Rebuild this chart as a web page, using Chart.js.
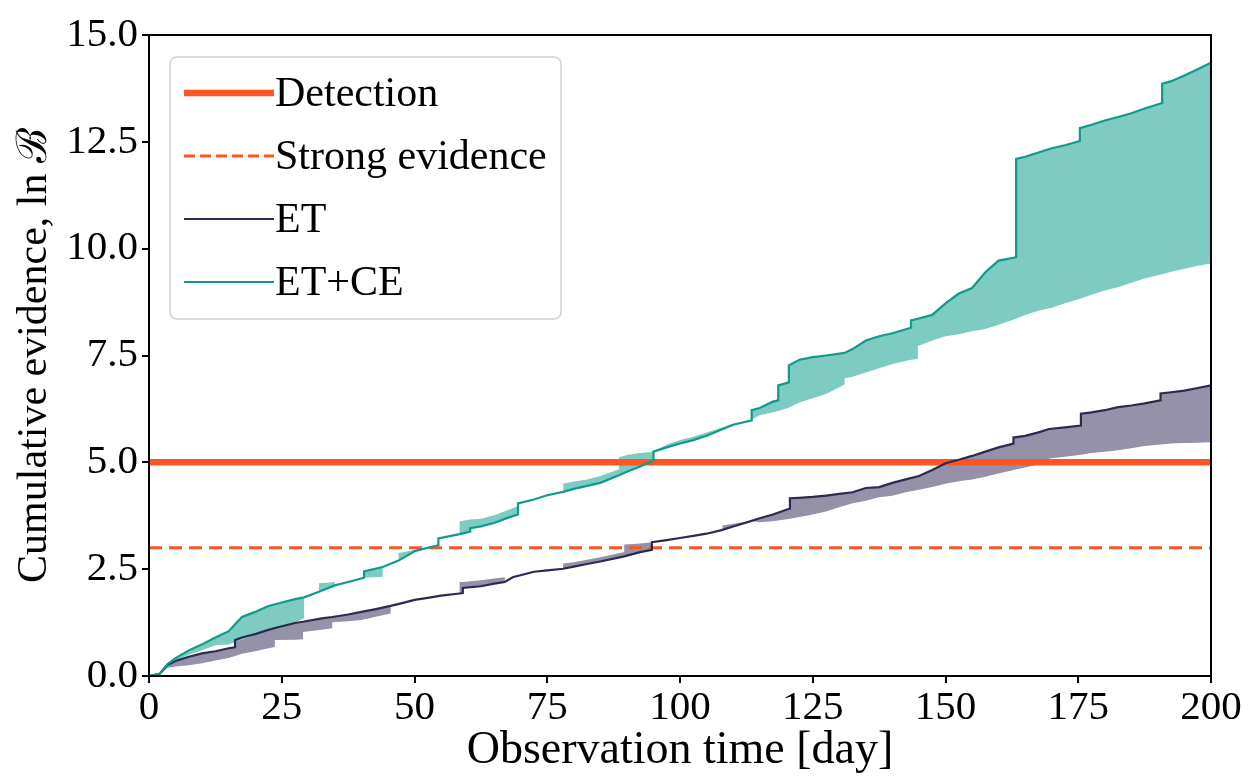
<!DOCTYPE html>
<html>
<head>
<meta charset="utf-8">
<script src="https://cdn.jsdelivr.net/npm/chart.js@4.4.0/dist/chart.umd.min.js"></script>
<style>
  html, body { margin: 0; padding: 0; background: #ffffff; }
  #wrap { width: 1253px; height: 779px; position: relative; }
</style>
</head>
<body>
<div id="wrap"><canvas id="c" width="1253" height="779"></canvas></div>
<script>
// ---------------- data ----------------
// ET+CE: observation days, cumulative ln B (line) and the other edge of its shaded band
const ceDays = [0, 2, 3.5, 5, 7.5, 10, 12.5, 15, 17.5, 20,
  22.5, 25, 27.5, 29.2, 29.2, 32, 32, 35, 35, 37.5,
  40.5, 40.5, 44, 44, 47, 47, 50, 50.5, 54.5, 54.5,
  58.5, 58.5, 60.5, 60.5, 62.5, 65, 67.5, 69.5, 69.5, 72.5,
  75, 78, 78, 80, 82.5, 85, 88.5, 88.5, 90, 92.5,
  95, 95, 97.5, 100, 102.5, 105, 107.5, 110, 113.5, 113.5,
  115, 117.5, 118.5, 118.5, 120.5, 120.5, 122.5, 125, 127.5, 131,
  131, 132.5, 135, 137.5, 140, 143.5, 143.5, 144.8, 144.8, 147.5,
  150, 152.5, 155, 157.5, 160, 163.3, 163.3, 165, 167.5, 170,
  172.5, 175.3, 175.3, 177.5, 180, 182.5, 185, 187.5, 190.8, 190.8,
  192.5, 195, 197.5, 200];

const ceLine = [0, 0.05, 0.28, 0.42, 0.6, 0.74, 0.9, 1.05, 1.38, 1.5,
  1.64, 1.72, 1.8, 1.84, 1.84, 1.97, 1.97, 2.12, 2.12, 2.2,
  2.3, 2.45, 2.55, 2.55, 2.7, 2.7, 2.92, 2.94, 3.06, 3.22,
  3.32, 3.32, 3.38, 3.46, 3.5, 3.58, 3.7, 3.78, 4.04, 4.13,
  4.23, 4.31, 4.31, 4.38, 4.45, 4.52, 4.7, 4.7, 4.78, 4.9,
  5.05, 5.25, 5.35, 5.44, 5.52, 5.62, 5.75, 5.88, 5.98, 6.22,
  6.27, 6.42, 6.45, 6.8, 6.87, 7.27, 7.4, 7.46, 7.5, 7.56,
  7.56, 7.65, 7.85, 7.95, 8.02, 8.15, 8.32, 8.36, 8.36, 8.45,
  8.72, 8.95, 9.08, 9.45, 9.72, 9.8, 12.1, 12.15, 12.25, 12.35,
  12.42, 12.52, 12.82, 12.9, 13.0, 13.08, 13.17, 13.28, 13.41, 13.86,
  13.92, 14.05, 14.2, 14.35];

const ceBand = [0, 0.03, 0.2, 0.35, 0.5, 0.6, 0.72, 0.74, 0.85, 0.95,
  1.05, 1.12, 1.25, 1.35, 1.84, 1.97, 2.17, 2.2, 2.12, 2.2,
  2.3, 2.3, 2.32, 2.55, 2.7, 2.88, 2.95, 2.94, 3.06, 3.22,
  3.32, 3.62, 3.66, 3.66, 3.68, 3.76, 3.88, 3.98, 4.04, 4.13,
  4.23, 4.31, 4.5, 4.55, 4.6, 4.68, 4.84, 5.12, 5.17, 5.22,
  5.25, 5.25, 5.42, 5.52, 5.6, 5.7, 5.8, 5.9, 6.0, 6.0,
  6.1, 6.17, 6.2, 6.2, 6.28, 6.28, 6.4, 6.5, 6.6, 6.82,
  6.97, 7.0, 7.1, 7.2, 7.3, 7.4, 7.4, 7.42, 7.72, 7.85,
  7.95, 8.0, 8.07, 8.12, 8.22, 8.36, 8.36, 8.45, 8.55, 8.62,
  8.72, 8.83, 8.83, 8.92, 9.02, 9.1, 9.2, 9.3, 9.4, 9.4,
  9.46, 9.53, 9.6, 9.65];

// ET: observation days, cumulative ln B (line) and the other edge of its shaded band
const etDays = [0, 2, 3.5, 5, 7.5, 10, 12.5, 15, 16.2, 16.2,
  17.5, 20, 22.5, 23.7, 23.7, 27.5, 29, 29, 32.5, 34.5,
  34.5, 37.5, 40, 42.5, 45.5, 45.5, 47.5, 50, 52.5, 55,
  58.5, 58.5, 59.1, 59.1, 62.5, 65, 67, 67, 68.5, 72.5,
  75, 78, 78, 80, 82.5, 85, 89.5, 89.5, 92.5, 94.7,
  94.7, 97.5, 100, 102.5, 105, 108, 108, 110, 113.5, 115,
  117.5, 120.7, 120.7, 122.5, 125, 127.5, 130, 132.5, 135, 137.5,
  140, 142.5, 145, 147.5, 150, 152.5, 155, 157.5, 160, 162.8,
  162.8, 165, 167.5, 169.5, 169.5, 172.5, 175.5, 175.5, 177.5, 180,
  182.5, 185, 187.5, 190.5, 190.5, 192.5, 195, 197.5, 200];

const etLine = [0, 0.05, 0.26, 0.35, 0.45, 0.53, 0.58, 0.65, 0.67, 0.84,
  0.9, 0.98, 1.08, 1.12, 1.12, 1.24, 1.27, 1.27, 1.35, 1.38,
  1.38, 1.44, 1.5, 1.56, 1.64, 1.64, 1.7, 1.78, 1.83, 1.88,
  1.93, 1.93, 1.94, 2.06, 2.1, 2.16, 2.2, 2.2, 2.31, 2.44,
  2.47, 2.51, 2.51, 2.56, 2.62, 2.68, 2.8, 2.8, 2.9, 2.95,
  3.13, 3.18, 3.23, 3.28, 3.33, 3.42, 3.42, 3.5, 3.63, 3.69,
  3.78, 3.92, 4.16, 4.17, 4.19, 4.22, 4.26, 4.3, 4.4, 4.42,
  4.52, 4.6, 4.68, 4.82, 4.98, 5.06, 5.15, 5.25, 5.35, 5.44,
  5.58, 5.62, 5.7, 5.78, 5.78, 5.82, 5.86, 6.14, 6.17, 6.22,
  6.29, 6.33, 6.38, 6.45, 6.61, 6.64, 6.68, 6.74, 6.8];

const etBand = [0, 0.03, 0.19, 0.22, 0.25, 0.3, 0.36, 0.42, 0.47, 0.47,
  0.52, 0.58, 0.65, 0.68, 0.84, 0.85, 0.86, 1.03, 1.08, 1.12,
  1.26, 1.28, 1.31, 1.38, 1.46, 1.64, 1.7, 1.78, 1.83, 1.88,
  1.93, 2.2, 2.2, 2.2, 2.24, 2.28, 2.31, 2.2, 2.31, 2.44,
  2.47, 2.51, 2.63, 2.66, 2.72, 2.78, 2.9, 3.08, 3.1, 3.13,
  3.13, 3.18, 3.23, 3.28, 3.33, 3.42, 3.52, 3.56, 3.63, 3.6,
  3.62, 3.68, 3.68, 3.72, 3.78, 3.85, 3.95, 4.04, 4.1, 4.18,
  4.22, 4.3, 4.36, 4.42, 4.5, 4.56, 4.6, 4.66, 4.74, 4.82,
  4.82, 4.88, 4.95, 4.98, 5.09, 5.13, 5.18, 5.18, 5.22, 5.25,
  5.28, 5.33, 5.38, 5.42, 5.42, 5.44, 5.45, 5.46, 5.47];

const detectionLevel = 5.0;
const strongLevel = 3.0;
const xRange = [0, 200];
const yRange = [0, 15];
const xTicks = [0, 25, 50, 75, 100, 125, 150, 175, 200];
const yTicks = [0, 2.5, 5, 7.5, 10, 12.5, 15];
const legendLabels = ['Detection', 'Strong evidence', 'ET', 'ET+CE'];
const xTitle = 'Observation time [day]';
const yTitle = 'Cumulative evidence, ln \u212C';

// ---------------- styling ----------------
const ORANGE = '#fd5523';
const TEAL = '#0f9a8b';
const TEAL_FILL = '#7ecbc1';
const NAVY = '#2c2a4e';
const NAVY_FILL = '#9591a9';
const FONT = '"Liberation Serif", "DejaVu Serif", serif';
const DASH = [13, 7];

const pts = (xs, ys) => ys.map((v, i) => ({x: xs[i], y: v}));
const hline = (v) => xRange.map(x => ({x: x, y: v}));

const datasets = [
  { label: 'ET+CE', data: pts(ceDays, ceLine), borderColor: TEAL, borderWidth: 2.2, pointRadius: 0, tension: 0, fill: false, order: 0 },
  { label: 'ET+CE band', data: pts(ceDays, ceBand), borderWidth: 0, borderColor: 'rgba(0,0,0,0)', backgroundColor: TEAL_FILL, pointRadius: 0, tension: 0, fill: {target: 0}, order: 3 },
  { label: 'ET', data: pts(etDays, etLine), borderColor: NAVY, borderWidth: 2.2, pointRadius: 0, tension: 0, fill: false, order: 0 },
  { label: 'ET band', data: pts(etDays, etBand), borderWidth: 0, borderColor: 'rgba(0,0,0,0)', backgroundColor: NAVY_FILL, pointRadius: 0, tension: 0, fill: {target: 2}, order: 3 },
  { label: 'Detection', data: hline(detectionLevel), borderColor: ORANGE, borderWidth: 6.5, pointRadius: 0, fill: false, order: 1 },
  { label: 'Strong evidence', data: hline(strongLevel), borderColor: ORANGE, borderWidth: 3, borderDash: DASH, pointRadius: 0, fill: false, order: 1 }
];

const legendStyles = [
  {color: ORANGE, width: 6.5, dash: []},
  {color: ORANGE, width: 3, dash: [11, 5]},
  {color: NAVY, width: 2, dash: []},
  {color: TEAL, width: 2, dash: []}
];

const frameAndLegend = {
  id: 'frameAndLegend',
  afterDraw(chart) {
    const {ctx, chartArea: a} = chart;
    ctx.save();
    ctx.strokeStyle = '#000';
    ctx.lineWidth = 2;
    ctx.strokeRect(a.left, a.top, a.right - a.left, a.bottom - a.top);
    const bx = a.left + 21, by = a.top + 22, bw = 391, bh = 262;
    ctx.beginPath();
    ctx.roundRect(bx, by, bw, bh, 7);
    ctx.fillStyle = 'rgba(255,255,255,0.85)';
    ctx.fill();
    ctx.strokeStyle = '#d0d0d0';
    ctx.lineWidth = 1.5;
    ctx.stroke();
    ctx.font = '42px ' + FONT;
    ctx.textBaseline = 'middle';
    ctx.fillStyle = '#000';
    legendLabels.forEach((lab, i) => {
      const y = by + 36 + i * 63;
      const s = legendStyles[i];
      ctx.beginPath();
      ctx.setLineDash(s.dash);
      ctx.strokeStyle = s.color;
      ctx.lineWidth = s.width;
      ctx.moveTo(bx + 14, y);
      ctx.lineTo(bx + 104, y);
      ctx.stroke();
      ctx.setLineDash([]);
      ctx.fillText(lab, bx + 105, y + 2);
    });
    ctx.restore();
  }
};

new Chart(document.getElementById('c'), {
  type: 'line',
  data: { datasets },
  options: {
    responsive: false,
    animation: false,
    devicePixelRatio: 1,
    layout: { padding: { top: 35, right: 42, left: 0, bottom: 0 } },
    plugins: { legend: { display: false }, tooltip: { enabled: false } },
    scales: {
      x: {
        type: 'linear',
        min: xRange[0], max: xRange[1],
        afterFit(scale) { scale.height = 103; },
        afterBuildTicks(scale) { scale.ticks = xTicks.map(v => ({value: v})); },
        grid: { drawOnChartArea: false, drawTicks: true, tickLength: 7, color: '#000', lineWidth: 2 },
        border: { display: true, color: '#000', width: 2 },
        ticks: { color: '#000', padding: 1, maxRotation: 0, font: { family: FONT, size: 41 }, callback: (v) => String(v) },
        title: { display: true, text: xTitle, color: '#000', font: { family: FONT, size: 46 }, padding: { top: 0, bottom: 0 } }
      },
      y: {
        type: 'linear',
        min: yRange[0], max: yRange[1],
        afterFit(scale) { scale.width = 149; },
        afterBuildTicks(scale) { scale.ticks = yTicks.map(v => ({value: v})); },
        grid: { drawOnChartArea: false, drawTicks: true, tickLength: 7, color: '#000', lineWidth: 2 },
        border: { display: true, color: '#000', width: 2 },
        ticks: { color: '#000', padding: 4, font: { family: FONT, size: 41 }, callback: (v) => Number(v).toFixed(1) },
        title: { display: true, text: yTitle, color: '#000', font: { family: FONT, size: 42 }, padding: { top: 10, bottom: 0 } }
      }
    }
  },
  plugins: [frameAndLegend]
});
</script>
</body>
</html>
